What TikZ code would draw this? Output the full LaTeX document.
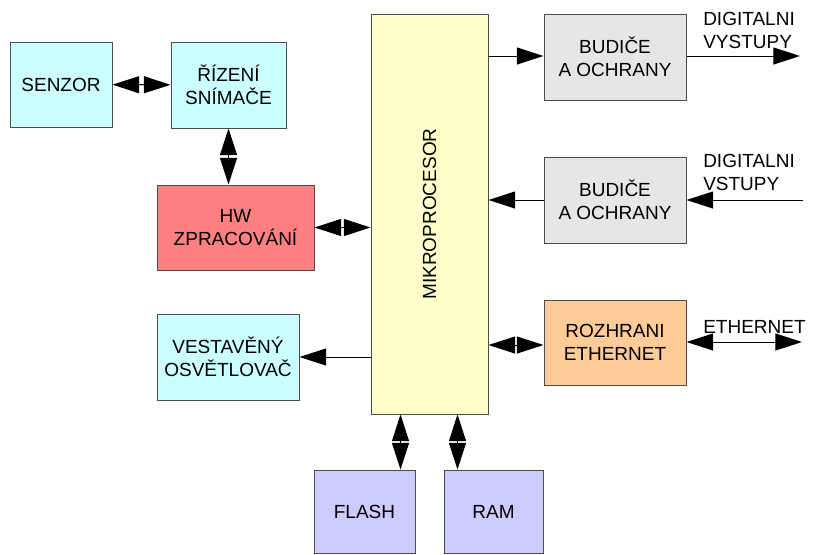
\documentclass[tikz,border=0pt]{standalone}
\usepackage{fontspec}
\setmainfont{Liberation Sans}
\usetikzlibrary{arrows.meta}
\definecolor{cyanbox}{HTML}{CCFFFF}
\definecolor{redbox}{HTML}{FF8080}
\definecolor{yellowbox}{HTML}{FFFFCC}
\definecolor{greybox}{HTML}{E6E6E6}
\definecolor{orangebox}{HTML}{FFCC99}
\definecolor{bluebox}{HTML}{CCCCFF}
\begin{document}
\begin{tikzpicture}[x=0.75pt,y=-0.75pt,font=\fontsize{14.25}{17.25}\selectfont,
  block/.style={draw=black!70,line width=0.75pt,align=center,inner sep=0pt},
  tip/.style={Triangle[length=20pt,width=12.75pt]},
  oneway/.style={-{Triangle[length=20pt,width=12.75pt]},line width=0.75pt},
  twoway/.style={{Triangle[length=20pt,width=12.75pt]}-{Triangle[length=20pt,width=12.75pt]},line width=0.75pt}]
  \useasboundingbox (0,0) rectangle (813,554);

  \node[block,fill=cyanbox,minimum width=76.5pt,minimum height=63.75pt] (senzor) at (61,84.5) {SENZOR};
  \node[block,fill=cyanbox,minimum width=86.25pt,minimum height=64.5pt] (rizeni) at (228.5,85) {ŘÍZENÍ\\SNÍMAČE};
  \node[block,fill=redbox,minimum width=117.75pt,minimum height=63.75pt] (hw) at (235.5,227.5) {HW\\ZPRACOVÁNÍ};
  \node[block,fill=cyanbox,minimum width=106.5pt,minimum height=64.5pt] (osvetlovac) at (228,357) {VESTAVĚNÝ\\OSVĚTLOVAČ};
  \node[block,fill=yellowbox,minimum width=87.75pt,minimum height=300pt] (mikro) at (429.5,214)
    {\rotatebox{90}{MIKROPROCESOR}};
  \node[block,fill=greybox,minimum width=106.5pt,minimum height=64.5pt] (vystupy) at (615,57) {BUDIČE\\A OCHRANY};
  \node[block,fill=greybox,minimum width=106.5pt,minimum height=64.5pt] (vstupy) at (615,200) {BUDIČE\\A OCHRANY};
  \node[block,fill=orangebox,minimum width=106.5pt,minimum height=63.75pt] (ethernet) at (615,342.5) {ROZHRANI\\ETHERNET};
  \node[block,fill=bluebox,minimum width=75.75pt,minimum height=62.25pt] (flash) at (364.5,511.5) {FLASH};
  \node[block,fill=bluebox,minimum width=74.25pt,minimum height=62.25pt] (ram) at (493.5,511.5) {RAM};

  \coordinate (dout) at (800,56);
  \coordinate (din) at (803,200);
  \coordinate (ethout) at (802,342);

  % left side
  \draw[twoway] (senzor) -- (rizeni);
  \draw[twoway] (rizeni.south) -- (rizeni.south |- hw.north);
  \draw[twoway] (hw.east) -- (mikro.west |- hw.east);
  \draw[oneway] (mikro.west |- osvetlovac.east) -- (osvetlovac.east);

  % right side
  \draw[oneway] (mikro.east |- 0,56) -- (vystupy.west |- 0,56);
  \draw[oneway] (vstupy.west) -- (mikro.east |- vstupy.west);
  \draw[twoway] (mikro.east |- 0,345) -- (ethernet.west |- 0,345);
  \draw[oneway] (vystupy.east |- dout) -- (dout);
  \draw[oneway] (din) -- (vstupy.east |- din);
  \draw[twoway] (ethernet.east |- ethout) -- (ethout);

  % memories
  \draw[twoway] ([xshift=-11.25pt]flash.north east |- mikro.south) -- ([xshift=-11.25pt]flash.north east);
  \draw[twoway] ([xshift=10.5pt]ram.north west |- mikro.south) -- ([xshift=10.5pt]ram.north west);

  \node[anchor=west,align=left,inner sep=0pt] (outlabel) at (703,30.5) {DIGITALNI\\VYSTUPY};
  \node[anchor=west,align=left,inner sep=0pt] (inlabel) at (703,172.5) {DIGITALNI\\VSTUPY};
  \node[anchor=west,inner sep=0pt] (ethlabel) at (703,327) {ETHERNET};
\end{tikzpicture}
\end{document}
